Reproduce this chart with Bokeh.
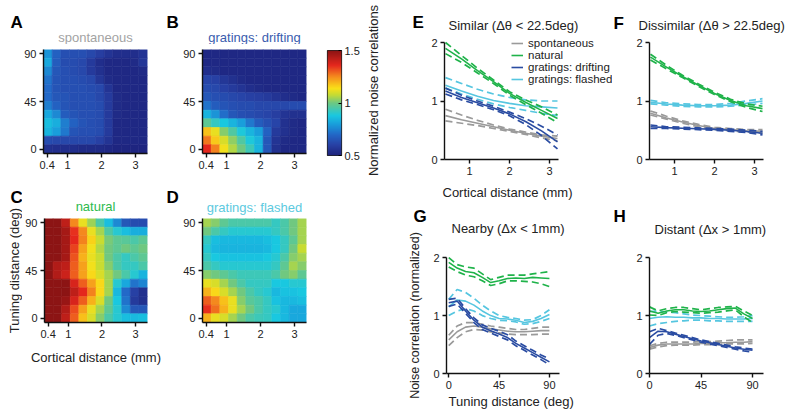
import numpy as np
from bokeh.plotting import figure
from bokeh.layouts import row, column
from bokeh.models import (Label, FixedTicker, LinearColorMapper, Legend, LegendItem,
                          ColumnDataSource, Range1d)
from bokeh.transform import linear_cmap
from bokeh.embed import file_html
from bokeh.resources import INLINE

FONT = "Liberation Sans"

# ---------------- heatmap data (rows: tuning distance 90 -> 0, cols: cortical distance) -------------
HM_X = [0.42, 0.675, 0.93, 1.185, 1.44, 1.695, 1.95, 2.205, 2.46, 2.715, 2.97, 3.225]
HM_Y = [90, 81.82, 73.64, 65.45, 57.27, 49.09, 40.91, 32.73, 24.55, 16.36, 8.18, 0]

spontaneous_map = [
    [0.78, 0.68, 0.64, 0.64, 0.64, 0.62, 0.59, 0.56, 0.54, 0.54, 0.54, 0.56],
    [0.82, 0.67, 0.63, 0.63, 0.62, 0.58, 0.54, 0.52, 0.52, 0.52, 0.53, 0.57],
    [0.76, 0.66, 0.64, 0.63, 0.62, 0.58, 0.55, 0.52, 0.52, 0.52, 0.52, 0.53],
    [0.72, 0.65, 0.64, 0.64, 0.63, 0.62, 0.57, 0.53, 0.52, 0.52, 0.52, 0.52],
    [0.70, 0.65, 0.64, 0.64, 0.64, 0.63, 0.62, 0.56, 0.52, 0.52, 0.52, 0.52],
    [0.70, 0.66, 0.65, 0.64, 0.64, 0.64, 0.62, 0.58, 0.53, 0.52, 0.52, 0.52],
    [0.74, 0.68, 0.65, 0.64, 0.64, 0.64, 0.63, 0.58, 0.53, 0.52, 0.52, 0.52],
    [0.82, 0.76, 0.67, 0.65, 0.64, 0.64, 0.63, 0.58, 0.53, 0.52, 0.52, 0.52],
    [0.86, 0.83, 0.74, 0.68, 0.65, 0.64, 0.63, 0.58, 0.52, 0.52, 0.52, 0.52],
    [0.84, 0.80, 0.73, 0.65, 0.64, 0.64, 0.63, 0.58, 0.52, 0.52, 0.52, 0.52],
    [0.63, 0.62, 0.62, 0.62, 0.62, 0.62, 0.60, 0.56, 0.52, 0.52, 0.52, 0.52],
    [0.55, 0.54, 0.54, 0.54, 0.53, 0.53, 0.53, 0.52, 0.51, 0.51, 0.51, 0.51],
]

drifting_map = [
    [0.52, 0.52, 0.52, 0.52, 0.52, 0.52, 0.52, 0.52, 0.52, 0.52, 0.52, 0.52],
    [0.52, 0.52, 0.52, 0.52, 0.52, 0.52, 0.52, 0.52, 0.52, 0.52, 0.52, 0.52],
    [0.54, 0.53, 0.52, 0.52, 0.52, 0.52, 0.52, 0.52, 0.52, 0.52, 0.52, 0.52],
    [0.61, 0.60, 0.57, 0.55, 0.53, 0.52, 0.52, 0.52, 0.52, 0.52, 0.52, 0.52],
    [0.63, 0.62, 0.60, 0.58, 0.56, 0.54, 0.53, 0.52, 0.52, 0.52, 0.52, 0.52],
    [0.66, 0.64, 0.63, 0.62, 0.61, 0.60, 0.59, 0.58, 0.56, 0.54, 0.53, 0.52],
    [0.72, 0.67, 0.65, 0.64, 0.63, 0.63, 0.62, 0.62, 0.62, 0.62, 0.63, 0.63],
    [0.84, 0.78, 0.71, 0.66, 0.64, 0.63, 0.62, 0.61, 0.59, 0.56, 0.55, 0.55],
    [0.98, 0.92, 0.88, 0.84, 0.80, 0.73, 0.67, 0.64, 0.61, 0.55, 0.53, 0.52],
    [1.18, 1.12, 1.02, 0.96, 0.89, 0.84, 0.80, 0.68, 0.58, 0.55, 0.53, 0.52],
    [1.27, 1.17, 1.10, 1.03, 0.96, 0.89, 0.84, 0.66, 0.56, 0.53, 0.52, 0.52],
    [1.36, 1.26, 1.13, 1.06, 1.00, 0.93, 0.84, 0.66, 0.55, 0.52, 0.52, 0.52],
]

natural_map = [
    [1.50, 1.50, 1.42, 1.25, 1.12, 1.04, 0.95, 0.86, 0.76, 0.66, 0.63, 0.63],
    [1.50, 1.50, 1.46, 1.35, 1.25, 1.12, 1.05, 0.96, 0.90, 0.86, 0.83, 0.83],
    [1.50, 1.50, 1.46, 1.36, 1.26, 1.16, 1.08, 1.01, 0.98, 0.97, 0.95, 0.98],
    [1.50, 1.50, 1.46, 1.33, 1.22, 1.13, 1.06, 1.00, 0.98, 1.00, 0.98, 1.00],
    [1.50, 1.50, 1.46, 1.31, 1.20, 1.12, 1.08, 1.00, 0.95, 0.92, 0.95, 0.98],
    [1.50, 1.44, 1.42, 1.30, 1.22, 1.13, 1.08, 1.02, 0.95, 0.92, 0.92, 0.95],
    [1.50, 1.44, 1.40, 1.30, 1.22, 1.15, 1.10, 1.05, 1.00, 0.95, 0.90, 0.84],
    [1.50, 1.50, 1.50, 1.38, 1.30, 1.22, 1.15, 1.05, 0.90, 0.82, 0.72, 0.75],
    [1.50, 1.50, 1.50, 1.42, 1.36, 1.26, 1.15, 1.05, 0.85, 0.70, 0.60, 0.55],
    [1.50, 1.50, 1.48, 1.38, 1.30, 1.20, 1.10, 1.00, 0.88, 0.72, 0.58, 0.55],
    [1.50, 1.50, 1.44, 1.32, 1.22, 1.12, 1.05, 0.98, 0.90, 0.76, 0.66, 0.66],
    [1.50, 1.50, 1.42, 1.30, 1.18, 1.10, 1.02, 0.95, 0.90, 0.86, 0.85, 0.86],
]

flashed_map = [
    [1.05, 1.02, 0.98, 0.95, 0.95, 0.95, 0.95, 0.95, 0.92, 0.95, 1.00, 1.05],
    [1.00, 0.95, 0.92, 0.90, 0.90, 0.90, 0.90, 0.90, 0.92, 0.95, 1.00, 1.05],
    [0.92, 0.86, 0.85, 0.85, 0.85, 0.85, 0.85, 0.86, 0.88, 0.92, 0.98, 1.05],
    [0.90, 0.85, 0.84, 0.84, 0.84, 0.84, 0.84, 0.85, 0.88, 0.92, 1.00, 1.08],
    [0.92, 0.88, 0.87, 0.87, 0.87, 0.87, 0.87, 0.88, 0.90, 0.95, 1.02, 1.05],
    [0.95, 0.92, 0.90, 0.90, 0.90, 0.90, 0.90, 0.90, 0.92, 0.98, 1.05, 1.02],
    [1.02, 1.00, 0.98, 0.95, 0.93, 0.93, 0.93, 0.93, 0.95, 1.00, 1.02, 0.98],
    [1.12, 1.10, 1.05, 1.00, 0.95, 0.92, 0.92, 0.92, 0.88, 0.88, 0.90, 0.90],
    [1.20, 1.15, 1.10, 1.05, 1.00, 0.95, 0.92, 0.90, 0.85, 0.87, 0.87, 0.88],
    [1.30, 1.25, 1.18, 1.12, 1.02, 0.97, 0.95, 0.92, 0.87, 0.85, 0.85, 0.86],
    [1.35, 1.28, 1.20, 1.12, 1.05, 1.00, 0.95, 0.92, 0.90, 0.85, 0.82, 0.82],
    [1.20, 1.12, 1.10, 1.05, 1.00, 0.95, 0.93, 0.92, 0.88, 0.85, 0.82, 0.82],
]

CBAR_TICKS = [0.5, 1, 1.5]

# ---------------- line panel data ----------------
SERIES = ["spontaneous", "natural", "gratings: drifting", "gratings: flashed"]
DRAW_ORDER = ["spontaneous", "gratings: flashed", "gratings: drifting", "natural"]

dist_x = [0.4, 0.8, 1.2, 1.6, 2.0, 2.4, 2.8, 3.2]
tune_x = [0, 7.5, 15, 22.5, 30, 37.5, 45, 52.5, 60, 67.5, 75, 82.5, 90]

# E: similar
E_mean = {
    "spontaneous": [0.75, 0.68, 0.62, 0.56, 0.50, 0.45, 0.40, 0.36],
    "natural": [1.90, 1.72, 1.52, 1.33, 1.13, 0.98, 0.84, 0.70],
    "gratings: drifting": [1.17, 1.06, 0.97, 0.88, 0.78, 0.65, 0.49, 0.30],
    "gratings: flashed": [1.27, 1.17, 1.08, 1.01, 0.96, 0.92, 0.90, 0.88],
}
E_hi = {
    "spontaneous": [0.86, 0.76, 0.67, 0.59, 0.52, 0.47, 0.42, 0.40],
    "natural": [2.00, 1.78, 1.56, 1.36, 1.16, 1.02, 0.90, 0.76],
    "gratings: drifting": [1.22, 1.10, 1.00, 0.91, 0.81, 0.70, 0.57, 0.42],
    "gratings: flashed": [1.40, 1.30, 1.20, 1.12, 1.06, 1.02, 1.00, 1.00],
}
E_lo = {
    "spontaneous": [0.66, 0.62, 0.58, 0.53, 0.48, 0.43, 0.37, 0.32],
    "natural": [1.81, 1.66, 1.48, 1.30, 1.10, 0.94, 0.79, 0.63],
    "gratings: drifting": [1.12, 1.02, 0.94, 0.85, 0.75, 0.60, 0.41, 0.18],
    "gratings: flashed": [1.22, 1.12, 1.03, 0.95, 0.89, 0.84, 0.79, 0.75],
}

# F: dissimilar
F_mean = {
    "spontaneous": [0.79, 0.71, 0.64, 0.58, 0.53, 0.51, 0.49, 0.48],
    "natural": [1.75, 1.58, 1.42, 1.27, 1.13, 1.01, 0.92, 0.87],
    "gratings: drifting": [0.56, 0.545, 0.535, 0.525, 0.515, 0.50, 0.48, 0.45],
    "gratings: flashed": [0.98, 0.95, 0.93, 0.92, 0.92, 0.93, 0.96, 1.00],
}
F_hi = {
    "spontaneous": [0.83, 0.74, 0.66, 0.60, 0.55, 0.53, 0.51, 0.51],
    "natural": [1.80, 1.61, 1.44, 1.29, 1.15, 1.03, 0.95, 0.91],
    "gratings: drifting": [0.59, 0.56, 0.55, 0.54, 0.53, 0.52, 0.50, 0.48],
    "gratings: flashed": [1.01, 0.97, 0.95, 0.94, 0.94, 0.96, 1.00, 1.04],
}
F_lo = {
    "spontaneous": [0.76, 0.69, 0.62, 0.56, 0.51, 0.49, 0.47, 0.45],
    "natural": [1.70, 1.55, 1.40, 1.25, 1.11, 0.99, 0.89, 0.82],
    "gratings: drifting": [0.53, 0.53, 0.52, 0.51, 0.50, 0.48, 0.46, 0.42],
    "gratings: flashed": [0.95, 0.93, 0.91, 0.90, 0.90, 0.91, 0.93, 0.96],
}

# G: nearby
G_mean = {
    "spontaneous": [0.58, 0.72, 0.80, 0.82, 0.80, 0.77, 0.75, 0.73, 0.72, 0.72, 0.73, 0.74, 0.74],
    "natural": [1.92, 1.82, 1.76, 1.74, 1.66, 1.57, 1.60, 1.64, 1.65, 1.64, 1.66, 1.65, 1.64],
    "gratings: drifting": [1.22, 1.25, 1.08, 0.92, 0.80, 0.74, 0.68, 0.62, 0.52, 0.44, 0.36, 0.28, 0.20],
    "gratings: flashed": [1.15, 1.27, 1.25, 1.18, 1.08, 1.00, 0.95, 0.94, 0.92, 0.88, 0.90, 0.95, 1.02],
}
G_hi = {
    "spontaneous": [0.66, 0.82, 0.88, 0.88, 0.85, 0.82, 0.80, 0.78, 0.76, 0.76, 0.78, 0.80, 0.80],
    "natural": [2.00, 1.88, 1.84, 1.82, 1.72, 1.62, 1.66, 1.70, 1.70, 1.70, 1.72, 1.74, 1.76],
    "gratings: drifting": [1.28, 1.30, 1.12, 0.96, 0.84, 0.78, 0.73, 0.67, 0.56, 0.48, 0.40, 0.32, 0.25],
    "gratings: flashed": [1.28, 1.45, 1.40, 1.30, 1.18, 1.08, 1.00, 0.97, 0.95, 0.92, 0.93, 1.00, 1.10],
}
G_lo = {
    "spontaneous": [0.48, 0.62, 0.72, 0.76, 0.75, 0.72, 0.70, 0.68, 0.67, 0.67, 0.67, 0.68, 0.68],
    "natural": [1.84, 1.76, 1.70, 1.67, 1.60, 1.52, 1.55, 1.60, 1.60, 1.59, 1.58, 1.55, 1.50],
    "gratings: drifting": [1.16, 1.20, 1.04, 0.88, 0.76, 0.70, 0.64, 0.58, 0.48, 0.40, 0.32, 0.24, 0.15],
    "gratings: flashed": [1.00, 1.08, 1.12, 1.08, 1.00, 0.95, 0.92, 0.91, 0.89, 0.85, 0.86, 0.90, 0.95],
}

# H: distant
H_mean = {
    "spontaneous": [0.45, 0.49, 0.51, 0.51, 0.51, 0.51, 0.52, 0.52, 0.53, 0.53, 0.54, 0.54, 0.55],
    "natural": [1.08, 1.04, 1.08, 1.10, 1.10, 1.08, 1.07, 1.08, 1.10, 1.12, 1.13, 1.03, 0.95],
    "gratings: drifting": [0.62, 0.73, 0.72, 0.68, 0.64, 0.60, 0.56, 0.53, 0.50, 0.47, 0.44, 0.42, 0.40],
    "gratings: flashed": [0.95, 0.97, 0.98, 0.97, 0.97, 0.96, 0.96, 0.95, 0.95, 0.94, 0.94, 0.94, 0.95],
}
H_hi = {
    "spontaneous": [0.48, 0.52, 0.54, 0.54, 0.54, 0.54, 0.55, 0.55, 0.56, 0.57, 0.58, 0.58, 0.58],
    "natural": [1.15, 1.08, 1.12, 1.14, 1.14, 1.12, 1.10, 1.12, 1.14, 1.15, 1.16, 1.08, 1.00],
    "gratings: drifting": [0.72, 0.78, 0.74, 0.70, 0.66, 0.62, 0.58, 0.55, 0.52, 0.49, 0.46, 0.44, 0.42],
    "gratings: flashed": [1.07, 1.08, 1.06, 1.05, 1.03, 1.01, 1.00, 0.99, 0.98, 0.97, 0.97, 0.98, 1.00],
}
H_lo = {
    "spontaneous": [0.42, 0.46, 0.48, 0.49, 0.49, 0.49, 0.50, 0.50, 0.50, 0.51, 0.51, 0.51, 0.52],
    "natural": [1.01, 1.00, 1.05, 1.07, 1.06, 1.05, 1.04, 1.05, 1.06, 1.08, 1.10, 0.98, 0.88],
    "gratings: drifting": [0.50, 0.66, 0.69, 0.66, 0.62, 0.58, 0.54, 0.51, 0.48, 0.45, 0.42, 0.39, 0.37],
    "gratings: flashed": [0.82, 0.86, 0.88, 0.90, 0.91, 0.92, 0.92, 0.91, 0.91, 0.90, 0.90, 0.90, 0.90],
}

COLORS = {
    "spontaneous": "#9a9a9a",
    "natural": "#1fb34a",
    "gratings: drifting": "#2a4ca2",
    "gratings: flashed": "#56c6e0",
}
TITLE_COLORS = {
    "spontaneous": "#a3a3a3",
    "natural": "#2dba4e",
    "gratings: drifting": "#3a5cae",
    "gratings: flashed": "#5ccae0",
}

# colour map anchors (jet-like, as printed)
CMAP_T = [0.00, 0.10, 0.20, 0.30, 0.38, 0.50, 0.58, 0.64, 0.75, 0.86, 1.00]
CMAP_RGB = [(30, 35, 125), (40, 65, 165), (35, 105, 200), (25, 160, 220), (25, 200, 225),
            (110, 200, 130), (200, 220, 50), (250, 225, 25), (245, 140, 30), (230, 40, 30),
            (140, 20, 20)]


def make_palette(n=256):
    t = np.linspace(0, 1, n)
    chans = [np.interp(t, CMAP_T, [c[k] for c in CMAP_RGB]) for k in range(3)]
    return ["#%02x%02x%02x" % (int(r), int(g), int(b)) for r, g, b in zip(*chans)]


PAL = make_palette()


def no_align(p):
    if "frame_align" in p.properties():
        p.frame_align = False
    return p


def text_label(p, x, y, text, size="13px", color="#222222", align="left", baseline="middle",
               angle=0.0, style="normal"):
    p.add_layout(Label(x=x, y=y, x_units="data", y_units="data", text=text, text_font=FONT,
                       text_font_size=size, text_color=color, text_align=align,
                       text_baseline=baseline, angle=angle, text_font_style=style))


def strip(w, h, left, top):
    """A text-only canvas; data coordinates equal page pixels (y downwards)."""
    p = figure(width=w, height=h, x_range=Range1d(left, left + w), y_range=Range1d(top + h, top),
               output_backend="svg", toolbar_location=None, min_border=0, min_border_left=0,
               min_border_right=0, min_border_top=0, min_border_bottom=0,
               x_axis_location=None, y_axis_location=None, title=None,
               background_fill_color="white", border_fill_color="white")
    for g in p.grid:
        g.visible = False
    p.outline_line_color = None
    return no_align(p)


def letter(p, x, y, s):
    text_label(p, x, y, s, size="17px", color="black", baseline="alphabetic", style="bold")


def style_axes(p, xticks, yticks, overrides=None):
    for ax in p.axis:
        ax.axis_line_width = 1.4
        ax.axis_line_color = "#111111"
        ax.major_tick_line_width = 1.4
        ax.major_tick_line_color = "#111111"
        ax.major_tick_out = 4
        ax.major_tick_in = 0
        ax.minor_tick_out = 0
        ax.minor_tick_in = 0
        ax.major_label_text_font = FONT
        ax.major_label_text_font_size = "11px"
        ax.major_label_text_color = "#222222"
        ax.major_label_standoff = 3
        ax.axis_label_text_font = FONT
        ax.axis_label_text_font_size = "13px"
        ax.axis_label_text_font_style = "normal"
        ax.axis_label_text_color = "#222222"
    p.xaxis.ticker = FixedTicker(ticks=xticks)
    p.yaxis.ticker = FixedTicker(ticks=yticks)
    if overrides:
        p.xaxis.major_label_overrides = overrides
    for g in p.grid:
        g.visible = False
    p.outline_line_color = None


def base_fig(W, H, L, R, T, B, xr, yr, **kw):
    p = figure(width=W, height=H, x_range=Range1d(*xr), y_range=Range1d(*yr),
               output_backend="svg", toolbar_location=None, min_border=0,
               min_border_left=L, min_border_right=R, min_border_top=T, min_border_bottom=B,
               title=None, background_fill_color="white", border_fill_color="white", **kw)
    return no_align(p)


DXH = HM_X[1] - HM_X[0]
DYH = HM_Y[0] - HM_Y[1]
HX_RANGE = (HM_X[0] - DXH / 2, HM_X[-1] + DXH / 2)
HY_RANGE = (HM_Y[-1] - DYH / 2, HM_Y[0] + DYH / 2)


def heat_panel(W, H, L, R, T, B, rows):
    p = base_fig(W, H, L, R, T, B, HX_RANGE, HY_RANGE)
    xs, ys, vs = [], [], []
    for yi, yv in enumerate(HM_Y):
        for xi, xv in enumerate(HM_X):
            xs.append(xv)
            ys.append(yv)
            vs.append(rows[yi][xi])
    src = ColumnDataSource(dict(x=xs, y=ys, v=vs))
    cm = linear_cmap("v", PAL, 0.5, 1.5)
    p.rect(x="x", y="y", width=DXH, height=DYH, source=src, fill_color=cm, line_color=cm,
           line_width=0.6)
    style_axes(p, [0.4, 1, 2, 3], [0, 45, 90], {0.4: "0.4", 1: "1", 2: "2", 3: "3"})
    return p


def line_panel(W, H, L, R, T, B, xr, yr, xb, x, mean, hi, lo, xticks):
    p = base_fig(W, H, L, R, T, B, xr, yr)
    rends = {}
    for name in DRAW_ORDER:
        c = COLORS[name]
        p.line(x, lo[name], line_color=c, line_width=1.7, line_dash="7 4")
        p.line(x, hi[name], line_color=c, line_width=1.7, line_dash="7 4")
        rends[name] = p.line(x, mean[name], line_color=c, line_width=1.6)
    style_axes(p, xticks, [0, 1, 2])
    p.xaxis.bounds = xb
    p.yaxis.bounds = (0, 2)
    return p, rends


# ================= left block: heatmaps =================
T1 = strip(318, 44, 0, 0)
letter(T1, 10, 22, "A")
text_label(T1, 95, 37, "spontaneous", color=TITLE_COLORS["spontaneous"], align="center")
letter(T1, 166, 22, "B")
text_label(T1, 254, 37, "gratings: drifting", color=TITLE_COLORS["gratings: drifting"], align="center")

pA = heat_panel(162, 135, 43, 15, 5, 26, spontaneous_map)
pB = heat_panel(156, 135, 40, 12, 5, 26, drifting_map)

LC = strip(22, 236, 0, 179)
letter(LC, 10, 197, "C")
text_label(LC, 14, 270, "Tuning distance (deg)", align="center", angle=np.pi / 2)

T2 = strip(296, 36, 22, 179)
text_label(T2, 95, 206, "natural", color=TITLE_COLORS["natural"], align="center")
letter(T2, 166, 197, "D")
text_label(T2, 254, 207, "gratings: flashed", color=TITLE_COLORS["gratings: flashed"], align="center")

pC = heat_panel(140, 200, 21, 15, 3, 93, natural_map)
pC.xaxis.axis_label = "Cortical distance (mm)"
pC.xaxis.axis_label_standoff = 9
pD = heat_panel(156, 200, 40, 12, 3, 93, flashed_map)

left_block = column(T1, row(pA, pB, spacing=0),
                    row(LC, column(T2, row(pC, pD, spacing=0), spacing=0), spacing=0),
                    spacing=0)

# ================= colour bar =================
pCB = figure(width=44, height=415, x_range=Range1d(0, 1), y_range=Range1d(0.5, 1.5),
             output_backend="svg", toolbar_location=None, min_border=0, min_border_left=9,
             min_border_right=19, min_border_top=50, min_border_bottom=260,
             x_axis_location=None, y_axis_location="right", title=None,
             border_fill_color="white")
no_align(pCB)
mapper = LinearColorMapper(palette=PAL, low=0.5, high=1.5)
grad = np.linspace(0.5, 1.5, 256).reshape(256, 1)
pCB.image(image=[grad], x=0, y=0.5, dw=1, dh=1, color_mapper=mapper)
pCB.yaxis.ticker = FixedTicker(ticks=CBAR_TICKS)
pCB.yaxis.major_label_overrides = {0.5: "0.5", 1: "1", 1.5: "1.5"}
pCB.yaxis.axis_line_color = None
pCB.yaxis.major_tick_in = 3
pCB.yaxis.major_tick_out = 0
pCB.yaxis.major_tick_line_width = 1.2
pCB.yaxis.minor_tick_in = 0
pCB.yaxis.minor_tick_out = 0
pCB.yaxis.major_label_text_font = FONT
pCB.yaxis.major_label_text_font_size = "11px"
pCB.yaxis.major_label_text_color = "#222222"
pCB.yaxis.major_label_standoff = 3
for g in pCB.grid:
    g.visible = False
pCB.outline_line_color = "#222222"
pCB.outline_line_width = 1.2

CBT = strip(43, 415, 362, 0)
text_label(CBT, 373, 90, "Normalized noise correlations", size="13px", align="center",
           angle=np.pi / 2)

cb_block = row(pCB, CBT, spacing=0)

# ================= right block: line panels =================
T3 = strip(383, 34, 405, 0)
letter(T3, 412, 22, "E")
text_label(T3, 448, 25, "Similar (\u0394\u03b8 < 22.5deg)")
letter(T3, 613, 23, "F")
text_label(T3, 638, 25, "Dissimilar (\u0394\u03b8 > 22.5deg)")

pE, rE = line_panel(207, 146, 39, 0, 0, 21, (0.375, 4.575), (0, 2.137), (0.375, 3.225),
                    dist_x, E_mean, E_hi, E_lo, [1, 2, 3])
legend = Legend(items=[LegendItem(label=n, renderers=[rE[n]]) for n in SERIES],
                location=(67, 74), orientation="vertical", label_text_font=FONT,
                label_text_font_size="11.5px", label_text_color="#222222", glyph_width=12,
                glyph_height=12, label_height=12, label_standoff=5, spacing=0, padding=0,
                margin=0, border_line_color=None, background_fill_alpha=0)
pE.add_layout(legend)

pF, _ = line_panel(176, 146, 37, 25, 0, 21, (0.375, 3.225), (0, 2.137), (0.375, 3.225),
                   dist_x, F_mean, F_hi, F_lo, [1, 2, 3])

LS = strip(25, 235, 405, 180)
letter(LS, 413, 216, "G")
text_label(LS, 414, 315, "Noise correlation (normalized)", size="12.5px", align="center",
           angle=np.pi / 2)

T4 = strip(358, 60, 430, 180)
text_label(T4, 442, 192, "Cortical distance (mm)")
text_label(T4, 451, 228, "Nearby (\u0394x < 1mm)")
letter(T4, 613, 216, "H")
text_label(T4, 654, 229, "Distant (\u0394x > 1mm)")

pG, _ = line_panel(182, 154, 16, 53, 16, 21, (-2, 99), (0, 2.02), (-2, 99),
                   tune_x, G_mean, G_hi, G_lo, [0, 45, 90])
GX = strip(182, 21, 430, 394)
text_label(GX, 448, 401, "Tuning distance (deg)")

pH, _ = line_panel(176, 175, 37, 25, 16, 42, (0, 99.6), (0, 2.02), (0, 99.6),
                   tune_x, H_mean, H_hi, H_lo, [0, 45, 90])

lower_right = row(LS, column(T4, row(column(pG, GX, spacing=0), pH, spacing=0), spacing=0),
                  spacing=0)
right_block = column(T3, row(pE, pF, spacing=0), lower_right, spacing=0)

layout = row(left_block, cb_block, right_block, spacing=0)

open("out.html", "w").write(file_html(layout, INLINE))
